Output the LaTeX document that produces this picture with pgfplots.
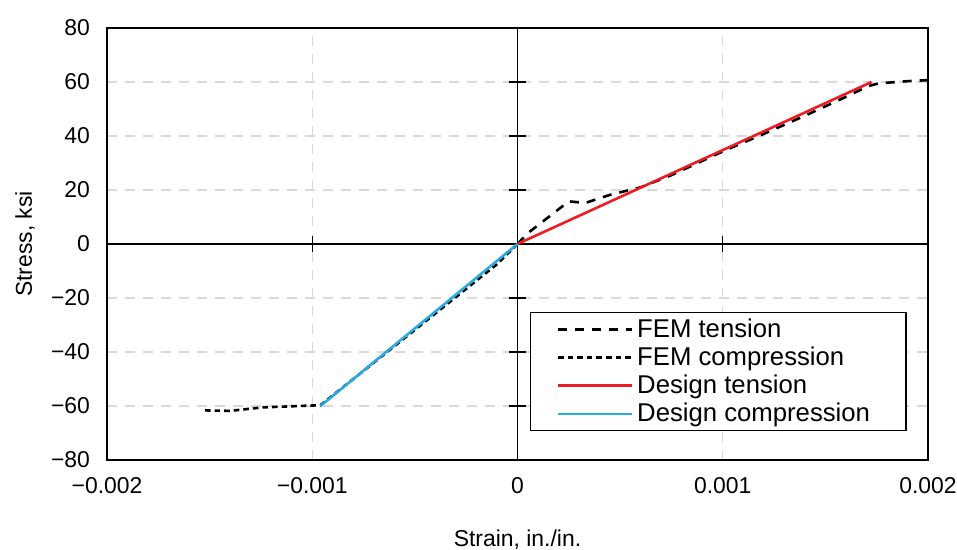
\documentclass[border=0pt]{standalone}
\usepackage{pgfplots}
\pgfplotsset{compat=1.18}
\usepackage{fontspec}
\setmainfont{Liberation Sans}
\definecolor{desred}{HTML}{ED1C24}
\definecolor{desblue}{HTML}{29ABE2}
\definecolor{gridgray}{HTML}{D9D9D9}
\begin{document}
\begin{tikzpicture}
\begin{axis}[
    scale only axis,
    width=410.5bp, height=216bp,
    xmin=-0.002, xmax=0.002, ymin=-80, ymax=80,
    scaled x ticks=false,
    xtick={-0.002,-0.001,0,0.001,0.002},
    xticklabels={−0.002,−0.001,0,0.001,0.002},
    ytick={-80,-60,-40,-20,0,20,40,60,80},
    yticklabels={−80,−60,−40,−20,0,20,40,60,80},
    major tick length=0pt,
    grid=major,
    major grid style={gridgray, dash pattern=on 5bp off 4bp, line width=0.6bp},
    axis line style={black, line width=0.6bp},
    font=\fontsize{11.5}{13}\selectfont,
    xticklabel style={yshift=-5bp},
    yticklabel style={xshift=-5bp},
    xlabel={Strain, in./in.},
    ylabel={Stress, ksi},
    xlabel style={at={(axis description cs:0.5,0)}, anchor=center, yshift=-40bp},
    ylabel style={at={([xshift=-41bp]axis description cs:0,0.5)}, anchor=center},
    legend style={at={(rel axis cs:0.974,0.3426)}, anchor=north east,
        draw=black, line width=0.6bp, inner xsep=13bp, inner ysep=1bp,
        row sep=-0.7bp,
        font=\fontsize{12.9}{14}\selectfont},
    legend cell align=left,
    legend image code/.code={\draw[#1] (0bp,0bp) -- (37bp,0bp);},
]
% zero axes with crossing ticks
\draw[black, line width=0.6bp] (axis cs:0,-80) -- (axis cs:0,80);
\draw[black, line width=0.6bp] (axis cs:-0.002,0) -- (axis cs:0.002,0);
\pgfplotsinvokeforeach{-80,-60,-40,-20,20,40,60,80}{
  \draw[black, line width=0.6bp] ([xshift=-4bp]axis cs:0,#1) -- ([xshift=4bp]axis cs:0,#1);
}
\pgfplotsinvokeforeach{-0.002,-0.001,0.001,0.002}{
  \draw[black, line width=0.6bp] ([yshift=-4bp]axis cs:#1,0) -- ([yshift=4bp]axis cs:#1,0);
}

\addplot[black, line width=1.3bp, dash pattern=on 4.5bp off 4bp] coordinates {
  (0,0) (0.00005,4) (0.00025,15.8) (0.00033,15.2) (0.00045,18.2) (0.0006,21)
  (0.00075,25.5) (0.001,34.3) (0.0012,40.8) (0.0014,47.5) (0.0016,54.5)
  (0.00171,58.5) (0.00176,59.5) (0.0019,60.3) (0.002,60.7)
};
\addlegendentry{FEM tension}
\addplot[black, line width=1.3bp, dash pattern=on 2.8bp off 2bp] coordinates {
  (0,0) (-0.0001,-7.5) (-0.00096,-59.7) (-0.00124,-60.5) (-0.0014,-61.8) (-0.00154,-61.6)
};
\addlegendentry{FEM compression}
\addplot[desred, line width=1.3bp] coordinates {
  (0,0) (0.001725,60)
};
\addlegendentry{Design tension}
\addplot[desblue, line width=1.3bp] coordinates {
  (0,0) (-0.00096,-60)
};
\addlegendentry{Design compression\rule{3bp}{0pt}}
\end{axis}
\pgfresetboundingbox
\path ([xshift=-53.5bp, yshift=-44.5bp]current axis.south west)
  rectangle ([xshift=14.5bp, yshift=14bp]current axis.north east);
\end{tikzpicture}
\end{document}
